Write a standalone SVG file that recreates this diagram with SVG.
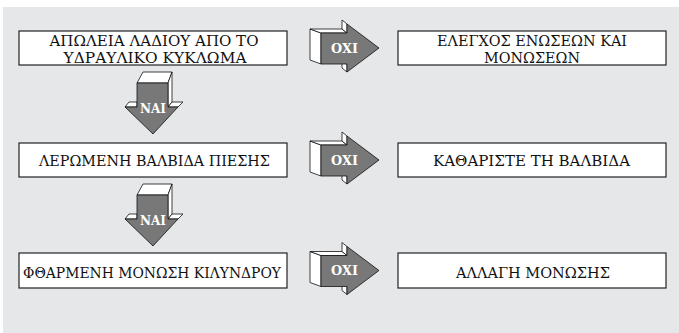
<svg xmlns="http://www.w3.org/2000/svg" xmlns:xlink="http://www.w3.org/1999/xlink" width="679" height="333" viewBox="0 0 679 333">
<style>
.box{fill:#fff;stroke:#222;stroke-width:1.2}
.t{font-family:"DejaVu Serif","Liberation Serif",serif;font-size:14.5px;fill:#111;text-anchor:middle}
.t1{font-size:15.5px}
.side{fill:#fff;stroke:#111;stroke-width:0.8;stroke-linejoin:round}
.front{fill:#787878;stroke:#111;stroke-width:0.8;stroke-linejoin:round}
.lbl{font-family:"DejaVu Serif","Liberation Serif",serif;font-weight:bold;font-size:13px;fill:#fff;text-anchor:middle}
</style>
<defs>
<g id="arrowRight">
<polygon class="side" points="310,29 321,33 321,64 310,60"/>
<polygon class="side" points="310,29 342,29 347,33 321,33"/>
<polygon class="side" points="342,20 347,24 347,33 342,29"/>
<polygon class="side" points="342,61 347,64 347,72 342,68"/>
<polygon class="front" points="321,33 347,33 347,24 379,48 347,72 347,64 321,64"/>
</g>
<g id="arrowDown">
<polygon class="side" points="137,83 168,83 172,72 143,72"/>
<polygon class="side" points="168,83 172,72 172,102 168,107"/>
<polygon class="side" points="125,107 137,107 137,102 129,102"/>
<polygon class="side" points="168,107 178,107 183,102 172,102"/>
<polygon class="front" points="137,83 168,83 168,107 178,107 153,134 125,107 137,107"/>
</g>
</defs>
<rect x="3" y="7" width="676" height="326" fill="#e6e7e9"/>

<g id="connectors">
<g id="yes1"><use xlink:href="#arrowDown"/><text class="lbl" x="153" y="112.5" textLength="26" lengthAdjust="spacingAndGlyphs">ΝΑΙ</text></g>
<g id="yes2"><use xlink:href="#arrowDown" transform="translate(0,112)"/><text class="lbl" x="153" y="224.5" textLength="26" lengthAdjust="spacingAndGlyphs">ΝΑΙ</text></g>
<g id="no1"><use xlink:href="#arrowRight"/><text class="lbl" x="344.5" y="52.5" textLength="27" lengthAdjust="spacingAndGlyphs">ΟΧΙ</text></g>
<g id="no2"><use xlink:href="#arrowRight" transform="translate(0,112)"/><text class="lbl" x="344.5" y="164.5" textLength="27" lengthAdjust="spacingAndGlyphs">ΟΧΙ</text></g>
<g id="no3"><use xlink:href="#arrowRight" transform="translate(0,222.5)"/><text class="lbl" x="344.5" y="275" textLength="27" lengthAdjust="spacingAndGlyphs">ΟΧΙ</text></g>
</g>

<g id="node-oil-loss">
<rect class="box" x="19" y="31" width="268" height="34"/>
<text class="t" x="154" y="46" textLength="209" lengthAdjust="spacingAndGlyphs">ΑΠΩΛΕΙΑ ΛΑΔΙΟΥ ΑΠΟ ΤΟ</text>
<text class="t" x="155" y="63" textLength="183" lengthAdjust="spacingAndGlyphs">ΥΔΡΑΥΛΙΚΟ ΚΥΚΛΩΜΑ</text>
</g>
<g id="node-check-joints">
<rect class="box" x="398" y="31" width="268" height="34"/>
<text class="t" x="532" y="46" textLength="190" lengthAdjust="spacingAndGlyphs">ΕΛΕΓΧΟΣ ΕΝΩΣΕΩΝ ΚΑΙ</text>
<text class="t" x="532" y="63" textLength="96" lengthAdjust="spacingAndGlyphs">ΜΟΝΩΣΕΩΝ</text>
</g>
<g id="node-valve">
<rect class="box" x="19" y="143" width="268" height="34"/>
<text class="t t1" x="154.5" y="165.5" textLength="231" lengthAdjust="spacingAndGlyphs">ΛΕΡΩΜΕΝΗ ΒΑΛΒΙΔΑ ΠΙΕΣΗΣ</text>
</g>
<g id="node-clean-valve">
<rect class="box" x="398" y="143" width="268" height="34"/>
<text class="t t1" x="531.5" y="165.5" textLength="197" lengthAdjust="spacingAndGlyphs">ΚΑΘΑΡΙΣΤΕ ΤΗ ΒΑΛΒΙΔΑ</text>
</g>
<g id="node-seal">
<rect class="box" x="19" y="253" width="268" height="35"/>
<text class="t t1" x="152" y="277.5" textLength="258" lengthAdjust="spacingAndGlyphs">ΦΘΑΡΜΕΝΗ ΜΟΝΩΣΗ ΚΙΛΥΝΔΡΟΥ</text>
</g>
<g id="node-replace-seal">
<rect class="box" x="398" y="253" width="268" height="35"/>
<text class="t t1" x="533" y="277.5" textLength="154" lengthAdjust="spacingAndGlyphs">ΑΛΛΑΓΗ ΜΟΝΩΣΗΣ</text>
</g>
</svg>
